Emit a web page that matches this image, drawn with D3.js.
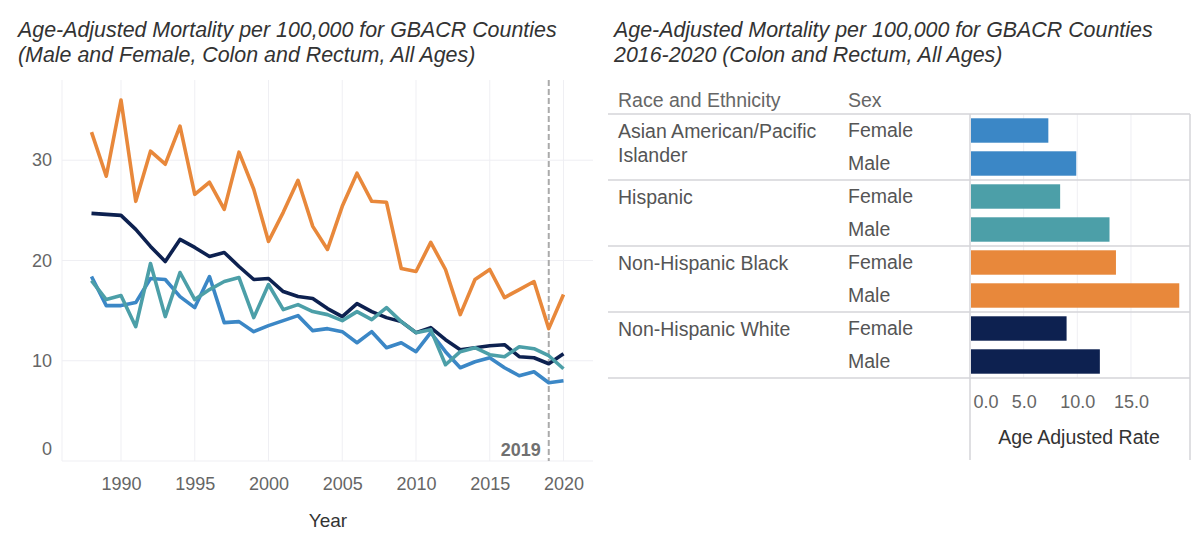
<!DOCTYPE html>
<html>
<head>
<meta charset="utf-8">
<script src="https://cdn.jsdelivr.net/npm/d3@7"></script>
<style>
  body { margin: 0; background: #fff; }
  svg { display: block; font-family: "Liberation Sans", Arial, sans-serif; }
  .title { font-style: italic; font-size: 21.4px; fill: #333; }
  .tick text { font-size: 18px; fill: #666; }
  .grid line { stroke: #efeff3; stroke-width: 1; }
  .table-text { font-size: 19.5px; fill: #555; }
</style>
</head>
<body>
<svg id="chart" width="1200" height="540"></svg>
<script>
// ---- Line chart data (age-adjusted mortality per 100,000) ----
const years = [1988, 1989, 1990, 1991, 1992, 1993, 1994, 1995, 1996, 1997, 1998,
  1999, 2000, 2001, 2002, 2003, 2004, 2005, 2006, 2007, 2008, 2009, 2010,
  2011, 2012, 2013, 2014, 2015, 2016, 2017, 2018, 2019, 2020];

const nhBlack = [32.8, 28.4, 36.0, 25.9, 30.9, 29.6, 33.4, 26.6, 27.8, 25.1, 30.8,
  27.1, 21.9, 24.8, 28.0, 23.4, 21.1, 25.4, 28.7, 25.9, 25.8, 19.2, 18.9,
  21.8, 19.1, 14.6, 18.1, 19.1, 16.3, 17.1, 17.9, 13.2, 16.6];

const nhWhite = [24.7, 24.6, 24.5, 23.1, 21.4, 19.9, 22.1, 21.3, 20.4, 20.8, 19.4,
  18.1, 18.2, 16.9, 16.4, 16.2, 15.2, 14.4, 15.7, 14.9, 14.3, 13.9, 12.8,
  13.3, 12.1, 11.1, 11.3, 11.5, 11.6, 10.4, 10.3, 9.7, 10.7];

const hispanic = [18.0, 16.1, 16.5, 13.4, 19.7, 14.4, 18.8, 16.1, 17.1, 17.9, 18.3,
  14.3, 17.6, 15.1, 15.6, 14.9, 14.6, 14.0, 14.9, 14.1, 15.3, 13.9, 12.8,
  13.1, 9.6, 10.9, 11.3, 10.6, 10.4, 11.4, 11.2, 10.5, 9.2];

const asianPI = [18.4, 15.5, 15.5, 15.8, 18.2, 18.1, 16.4, 15.3, 18.4, 13.8, 13.9,
  12.9, 13.5, 14.0, 14.5, 13.0, 13.2, 12.9, 11.8, 12.9, 11.3, 11.8, 10.9,
  12.8, 10.9, 9.3, 9.9, 10.3, 9.3, 8.5, 8.9, 7.8, 8.0];

const yearTicks = [1990, 1995, 2000, 2005, 2010, 2015, 2020];
const rateTicks = [0, 10, 20, 30];
const markerYear = 2019;

// ---- Bar table data (2016-2020) ----
const raceGroups = ["Asian American/Pacific\nIslander", "Hispanic", "Non-Hispanic Black", "Non-Hispanic White"];
const sexes = ["Female", "Male"];
const femaleRate = [7.3, 8.4, 13.6, 9.0];
const maleRate = [9.9, 13.0, 19.5, 12.1];
const barTicks = [0, 5, 10, 15];

const colors = {
  asian: "#3b87c6",
  hispanic: "#4c9fa8",
  black: "#e8883b",
  white: "#0d2150"
};
const groupColors = [colors.asian, colors.hispanic, colors.black, colors.white];

const svg = d3.select("#chart");

// ================= Left: line chart =================
const lm = { left: 62, right: 593, top: 80, bottom: 461 };

const x = d3.scaleLinear().domain([1986, 2022]).range([lm.left, lm.right]);
const y = d3.scaleLinear().domain([0, 38]).range([lm.bottom, lm.top]);

svg.append("text").attr("class", "title").attr("x", 18).attr("y", 37)
  .text("Age-Adjusted Mortality per 100,000 for GBACR Counties");
svg.append("text").attr("class", "title").attr("x", 18).attr("y", 62)
  .text("(Male and Female, Colon and Rectum, All Ages)");

// grid lines
const grid = svg.append("g").attr("class", "grid");
grid.selectAll(".vx").data(yearTicks).join("line")
  .attr("x1", d => x(d)).attr("x2", d => x(d))
  .attr("y1", lm.top).attr("y2", lm.bottom);
grid.selectAll(".hy").data(rateTicks).join("line")
  .attr("x1", lm.left).attr("x2", lm.right)
  .attr("y1", d => y(d)).attr("y2", d => y(d));
grid.append("line")
  .attr("x1", lm.left).attr("x2", lm.left)
  .attr("y1", lm.top).attr("y2", lm.bottom);

// axes
const xAxis = svg.append("g")
  .attr("transform", `translate(0,${lm.bottom})`)
  .call(d3.axisBottom(x).tickValues(yearTicks).tickFormat(d3.format("d")).tickSize(0).tickPadding(16));
xAxis.select(".domain").remove();

const yAxis = svg.append("g")
  .attr("transform", `translate(${lm.left},0)`)
  .call(d3.axisLeft(y).tickValues(rateTicks).tickSize(0).tickPadding(10));
yAxis.select(".domain").remove();
// flush the bottom label upward like the original
yAxis.selectAll(".tick text").filter(d => d === 0).attr("dy", "-0.35em");

svg.append("text")
  .attr("x", 328).attr("y", 527)
  .attr("text-anchor", "middle").attr("font-size", 19).attr("fill", "#333")
  .text("Year");

// marker line for 2019
svg.append("line")
  .attr("x1", x(markerYear)).attr("x2", x(markerYear))
  .attr("y1", lm.top).attr("y2", lm.bottom)
  .attr("stroke", "#aaa").attr("stroke-width", 2).attr("stroke-dasharray", "6,3");
svg.append("text")
  .attr("x", x(markerYear) - 8).attr("y", lm.bottom - 5)
  .attr("text-anchor", "end").attr("font-size", 18).attr("font-weight", 600).attr("fill", "#707070")
  .text(markerYear);

// series lines
const line = d3.line()
  .x((d, i) => x(years[i]))
  .y(d => y(d));

const series = [
  { values: asianPI, color: colors.asian },
  { values: nhWhite, color: colors.white },
  { values: hispanic, color: colors.hispanic },
  { values: nhBlack, color: colors.black }
];

svg.append("g").selectAll("path")
  .data(series)
  .join("path")
  .attr("fill", "none")
  .attr("stroke", d => d.color)
  .attr("stroke-width", 3.6)
  .attr("stroke-linejoin", "round")
  .attr("d", d => line(d.values));

// ================= Right: bar table =================
const tb = { left: 608, right: 1190, top: 114, bottom: 378, barLeft: 970, axisBottom: 460 };

svg.append("text").attr("class", "title").attr("x", 614).attr("y", 37)
  .text("Age-Adjusted Mortality per 100,000 for GBACR Counties");
svg.append("text").attr("class", "title").attr("x", 614).attr("y", 62)
  .text("2016-2020 (Colon and Rectum, All Ages)");

// rows: one per race x sex
const rows = [];
raceGroups.forEach((g, gi) => {
  rows.push({ group: gi, sex: sexes[0], value: femaleRate[gi] });
  rows.push({ group: gi, sex: sexes[1], value: maleRate[gi] });
});

const yRow = d3.scaleBand()
  .domain(rows.map((r, i) => i))
  .range([tb.top, tb.bottom])
  .paddingInner(0.26)
  .paddingOuter(0.13);
const step = yRow.step();

const xBar = d3.scaleLinear().domain([0, 20.5]).range([tb.barLeft, tb.right]);

// headers
svg.append("text").attr("class", "table-text").attr("x", 618).attr("y", 107)
  .style("fill", "#666").text("Race and Ethnicity");
svg.append("text").attr("class", "table-text").attr("x", 848).attr("y", 107)
  .style("fill", "#666").text("Sex");

// vertical gridlines in bar area
svg.append("g").attr("class", "grid").selectAll("line")
  .data(barTicks.slice(1))
  .join("line")
  .attr("x1", d => xBar(d)).attr("x2", d => xBar(d))
  .attr("y1", tb.top).attr("y2", tb.bottom)
  .attr("stroke", "#ececf0");

// group separators
const seps = [tb.top].concat(raceGroups.map((g, gi) => tb.top + step * 2 * (gi + 1)));
svg.append("g").selectAll("line")
  .data(seps)
  .join("line")
  .attr("x1", tb.left).attr("x2", tb.right)
  .attr("y1", d => d).attr("y2", d => d)
  .attr("stroke", "#d4d4d8").attr("stroke-width", 1.5);

// axis and border lines
svg.append("line")
  .attr("x1", tb.barLeft).attr("x2", tb.barLeft)
  .attr("y1", tb.top).attr("y2", tb.axisBottom)
  .attr("stroke", "#d4d4d8").attr("stroke-width", 1.5);
svg.append("line")
  .attr("x1", tb.right).attr("x2", tb.right)
  .attr("y1", tb.top).attr("y2", tb.axisBottom)
  .attr("stroke", "#d4d4d8").attr("stroke-width", 1.5);

// race labels
const raceLabels = svg.append("g").selectAll("text")
  .data(raceGroups)
  .join("text")
  .attr("class", "table-text")
  .attr("x", 618)
  .attr("y", (d, gi) => yRow(gi * 2) + yRow.bandwidth() / 2 + 7);
raceLabels.selectAll("tspan")
  .data(d => d.split("\n"))
  .join("tspan")
  .attr("x", 618)
  .attr("dy", (d, i) => i === 0 ? 0 : 24)
  .text(d => d);

// sex labels
svg.append("g").selectAll("text")
  .data(rows)
  .join("text")
  .attr("class", "table-text")
  .attr("x", 848)
  .attr("y", (d, i) => yRow(i) + yRow.bandwidth() / 2 + 6)
  .text(d => d.sex);

// bars
svg.append("g").selectAll("rect")
  .data(rows)
  .join("rect")
  .attr("x", xBar(0) + 1)
  .attr("y", (d, i) => yRow(i))
  .attr("width", d => xBar(d.value) - xBar(0) - 1)
  .attr("height", yRow.bandwidth())
  .attr("fill", d => groupColors[d.group]);

// bar axis
const barAxis = svg.append("g")
  .attr("transform", `translate(0,${tb.bottom})`)
  .call(d3.axisBottom(xBar).tickValues(barTicks).tickFormat(d3.format(".1f")).tickSize(0).tickPadding(17));
barAxis.select(".domain").remove();
barAxis.selectAll(".tick text").filter(d => d === 0).attr("text-anchor", "start").attr("dx", 3);

svg.append("text")
  .attr("x", 1079).attr("y", 444)
  .attr("text-anchor", "middle").attr("font-size", 19.5).attr("fill", "#333")
  .text("Age Adjusted Rate");
</script>
</body>
</html>
